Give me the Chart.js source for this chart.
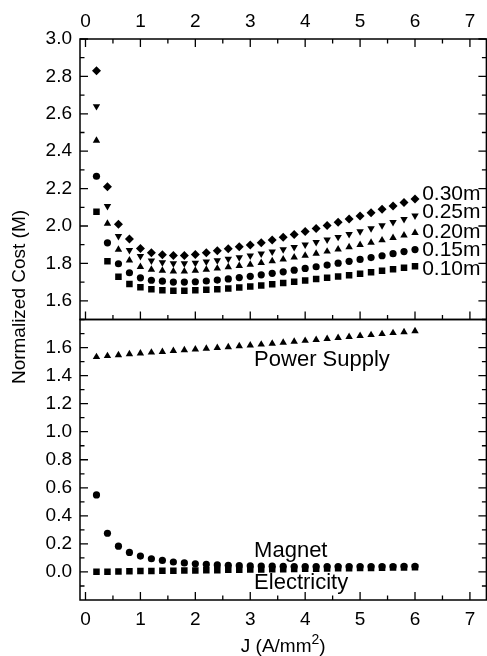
<!DOCTYPE html>
<html>
<head>
<meta charset="utf-8">
<script src="https://cdn.jsdelivr.net/npm/chart.js@4.4.0/dist/chart.umd.min.js"></script>
<style>
  html, body { margin: 0; padding: 0; background: #fff; overflow: hidden; }
  canvas { display: block; }
</style>
</head>
<body>
<canvas id="costChart" width="491" height="656"></canvas>
<script>
// ---- data ----
const jValues = [0.2, 0.4, 0.6, 0.8, 1.0, 1.2, 1.4, 1.6, 1.8, 2.0,
                 2.2, 2.4, 2.6, 2.8, 3.0, 3.2, 3.4, 3.6, 3.8, 4.0,
                 4.2, 4.4, 4.6, 4.8, 5.0, 5.2, 5.4, 5.6, 5.8, 6.0];

// total normalized cost, one series per bore size
const cost030 = [2.83, 2.21, 2.01, 1.93, 1.88, 1.857, 1.846, 1.842, 1.842, 1.848,
                 1.857, 1.867, 1.878, 1.889, 1.899, 1.910, 1.925, 1.940, 1.955, 1.971,
                 1.987, 2.003, 2.020, 2.037, 2.054, 2.071, 2.089, 2.107, 2.126, 2.145];
const cost025 = [2.64, 2.106, 1.946, 1.871, 1.839, 1.815, 1.805, 1.800, 1.800, 1.803,
                 1.809, 1.816, 1.824, 1.832, 1.841, 1.852, 1.863, 1.875, 1.887, 1.900,
                 1.913, 1.927, 1.941, 1.956, 1.971, 1.987, 2.003, 2.020, 2.037, 2.055];
const cost020 = [2.457, 2.013, 1.874, 1.816, 1.782, 1.767, 1.762, 1.758, 1.758, 1.762,
                 1.767, 1.773, 1.780, 1.787, 1.794, 1.803, 1.812, 1.822, 1.832, 1.842,
                 1.853, 1.864, 1.875, 1.887, 1.899, 1.911, 1.924, 1.937, 1.950, 1.964];
const cost015 = [2.266, 1.910, 1.798, 1.750, 1.723, 1.710, 1.705, 1.700, 1.700, 1.702,
                 1.706, 1.711, 1.717, 1.724, 1.731, 1.739, 1.747, 1.755, 1.764, 1.773,
                 1.782, 1.791, 1.801, 1.811, 1.821, 1.831, 1.841, 1.852, 1.863, 1.874];
const cost010 = [2.076, 1.812, 1.728, 1.690, 1.673, 1.662, 1.657, 1.654, 1.654, 1.656,
                 1.659, 1.662, 1.666, 1.671, 1.676, 1.682, 1.688, 1.695, 1.702, 1.709,
                 1.716, 1.723, 1.730, 1.737, 1.745, 1.753, 1.761, 1.769, 1.777, 1.785];

// cost breakdown
const powerSupply = [1.533, 1.540, 1.547, 1.553, 1.559, 1.565, 1.570, 1.576, 1.582, 1.587,
                     1.593, 1.598, 1.604, 1.610, 1.616, 1.622, 1.629, 1.635, 1.642, 1.649,
                     1.655, 1.662, 1.669, 1.676, 1.683, 1.690, 1.697, 1.704, 1.711, 1.718];
const magnet = [0.549, 0.276, 0.184, 0.139, 0.113, 0.094, 0.082, 0.071, 0.064, 0.058,
                0.054, 0.050, 0.047, 0.045, 0.043, 0.042, 0.041, 0.040, 0.039, 0.039,
                0.038, 0.038, 0.038, 0.038, 0.038, 0.039, 0.039, 0.039, 0.040, 0.040];
const electricity = [0.001, 0.002, 0.003, 0.005, 0.006, 0.007, 0.008, 0.009, 0.010, 0.011,
                     0.012, 0.013, 0.015, 0.016, 0.017, 0.018, 0.019, 0.020, 0.021, 0.022,
                     0.023, 0.024, 0.026, 0.027, 0.028, 0.029, 0.030, 0.031, 0.032, 0.033];

// axes ticks
const xMajor = [0, 1, 2, 3, 4, 5, 6, 7];
const xMinor = [0.5, 1.5, 2.5, 3.5, 4.5, 5.5, 6.5];
const topMajor = [1.6, 1.8, 2.0, 2.2, 2.4, 2.6, 2.8, 3.0];
const topMinor = [1.5, 1.7, 1.9, 2.1, 2.3, 2.5, 2.7, 2.9];
const botMajor = [0.0, 0.2, 0.4, 0.6, 0.8, 1.0, 1.2, 1.4, 1.6];
const botMinor = [-0.1, 0.1, 0.3, 0.5, 0.7, 0.9, 1.1, 1.3, 1.5, 1.7];

// in-plot text labels (data coordinates)
const sizeLabels = ['0.30m', '0.25m', '0.20m', '0.15m', '0.10m'];
const sizeLabelX = 6.13;
const sizeLabelY = [2.168, 2.072, 1.965, 1.869, 1.767];
const partLabels = ['Power Supply', 'Magnet', 'Electricity'];
const partLabelX = 3.07;
const partLabelY = [1.51, 0.15, -0.08];

// ---- chart ----
const FONT = "'Liberation Sans', Arial, sans-serif";
Chart.defaults.font.family = FONT;
Chart.defaults.color = '#000';

const toPoints = ys => ys.map((y, i) => ({ x: jValues[i], y: y }));

function series(data, style, radius, axis, rotation) {
    return {
        data: toPoints(data),
        yAxisID: axis,
        pointStyle: style,
        pointRadius: radius,
        pointRotation: rotation || 0,
        pointBackgroundColor: '#000',
        pointBorderWidth: 0,
        showLine: false
    };
}

const fixTicks = vals => scale => { scale.ticks = vals.map(v => ({ value: v })); };
const noSidePad = s => { s.paddingLeft = 0; s.paddingRight = 0; };

// frame, inward ticks, x tick labels, in-plot labels and axis titles
const frameAndLabels = {
    id: 'frameAndLabels',
    afterDraw(chart) {
        const ctx = chart.ctx;
        const x = chart.scales.x;
        const yT = chart.scales.yTop;
        const yB = chart.scales.yBot;
        const left = chart.chartArea.left;
        const right = chart.chartArea.right;

        ctx.save();
        ctx.strokeStyle = '#000';
        ctx.lineWidth = 1.5;
        ctx.strokeRect(left, yT.top, right - left, yT.bottom - yT.top);
        ctx.strokeRect(left, yB.top, right - left, yB.bottom - yB.top);

        ctx.lineWidth = 1.3;
        ctx.beginPath();
        const yTicks = (scale, vals, len) => vals.forEach(v => {
            const p = scale.getPixelForValue(v);
            ctx.moveTo(left, p); ctx.lineTo(left + len, p);
            ctx.moveTo(right, p); ctx.lineTo(right - len, p);
        });
        yTicks(yT, topMajor, 8); yTicks(yT, topMinor, 4.5);
        yTicks(yB, botMajor, 8); yTicks(yB, botMinor, 4.5);
        const xTicks = (vals, len) => vals.forEach(v => {
            const p = x.getPixelForValue(v);
            ctx.moveTo(p, yB.bottom); ctx.lineTo(p, yB.bottom - len);
            ctx.moveTo(p, yT.bottom); ctx.lineTo(p, yT.bottom - len);
            ctx.moveTo(p, yT.top); ctx.lineTo(p, yT.top + len);
        });
        xTicks(xMajor, 8); xTicks(xMinor, 4.5);
        ctx.stroke();

        ctx.fillStyle = '#000';
        ctx.font = '19px ' + FONT;
        ctx.textAlign = 'center';
        ctx.textBaseline = 'alphabetic';
        xMajor.forEach(v => {
            const p = x.getPixelForValue(v);
            ctx.fillText(String(v), p, yB.bottom + 25);
            ctx.fillText(String(v), p, yT.top - 12);
        });

        ctx.textAlign = 'left';
        ctx.textBaseline = 'middle';
        ctx.font = '21px ' + FONT;
        sizeLabels.forEach((t, i) => {
            ctx.fillText(t, x.getPixelForValue(sizeLabelX), yT.getPixelForValue(sizeLabelY[i]));
        });
        ctx.font = '22px ' + FONT;
        partLabels.forEach((t, i) => {
            ctx.fillText(t, x.getPixelForValue(partLabelX), yB.getPixelForValue(partLabelY[i]));
        });

        // x title with superscript
        ctx.font = '19px ' + FONT;
        ctx.textBaseline = 'alphabetic';
        const main = 'J (A/mm', tail = ')';
        const w1 = ctx.measureText(main).width;
        const w3 = ctx.measureText(tail).width;
        ctx.font = '14px ' + FONT;
        const w2 = ctx.measureText('2').width;
        const startX = (left + right) / 2 - (w1 + w2 + w3) / 2;
        const base = 652;
        ctx.font = '19px ' + FONT;
        ctx.fillText(main, startX, base);
        ctx.fillText(tail, startX + w1 + w2, base);
        ctx.font = '14px ' + FONT;
        ctx.fillText('2', startX + w1, base - 8);

        // y title
        ctx.font = '19px ' + FONT;
        ctx.translate(20, 297);
        ctx.rotate(-Math.PI / 2);
        ctx.textAlign = 'center';
        ctx.textBaseline = 'middle';
        ctx.fillText('Normalized Cost (M)', 0, 0);
        ctx.restore();
    }
};

const tickFont = { size: 19, family: FONT };

new Chart(document.getElementById('costChart'), {
    type: 'scatter',
    data: {
        datasets: [
            series(cost030, 'rectRot', 4.5, 'yTop'),
            series(cost025, 'triangle', 4.3, 'yTop', 180),
            series(cost020, 'triangle', 4.3, 'yTop'),
            series(cost015, 'circle', 3.6, 'yTop'),
            series(cost010, 'rect', 4.6, 'yTop'),
            series(powerSupply, 'triangle', 4.3, 'yBot'),
            series(magnet, 'circle', 3.6, 'yBot'),
            series(electricity, 'rect', 4.6, 'yBot')
        ]
    },
    options: {
        responsive: false,
        animation: false,
        devicePixelRatio: 1,
        layout: { padding: 0 },
        plugins: { legend: { display: false }, tooltip: { enabled: false } },
        scales: {
            x: {
                type: 'linear', position: 'bottom', min: -0.1, max: 7.3,
                grid: { display: false, drawTicks: false }, border: { display: false },
                ticks: { display: false },
                afterBuildTicks: fixTicks(xMajor),
                afterFit: s => { s.height = 56; noSidePad(s); }
            },
            x2: {
                type: 'linear', position: 'top', min: -0.1, max: 7.3,
                grid: { display: false, drawTicks: false }, border: { display: false },
                ticks: { display: false },
                afterBuildTicks: fixTicks(xMajor),
                afterFit: s => { s.height = 39; noSidePad(s); }
            },
            yBot: {
                type: 'linear', position: 'left', stack: 'panels', stackWeight: 1,
                min: -0.2, max: 1.8,
                grid: { display: false, drawTicks: false }, border: { display: false },
                ticks: { font: tickFont, padding: 8, autoSkip: false, callback: v => v.toFixed(1) },
                afterBuildTicks: fixTicks(botMajor),
                afterFit: s => { s.width = 80; s.paddingTop = 0; s.paddingBottom = 0; }
            },
            yTop: {
                type: 'linear', position: 'left', stack: 'panels', stackWeight: 1,
                min: 1.5, max: 3.0,
                grid: { display: false, drawTicks: false }, border: { display: false },
                ticks: { font: tickFont, padding: 8, autoSkip: false, callback: v => v.toFixed(1) },
                afterBuildTicks: fixTicks(topMajor),
                afterFit: s => { s.width = 80; s.paddingTop = 0; s.paddingBottom = 0; }
            }
        }
    },
    plugins: [frameAndLabels]
});
</script>
</body>
</html>
